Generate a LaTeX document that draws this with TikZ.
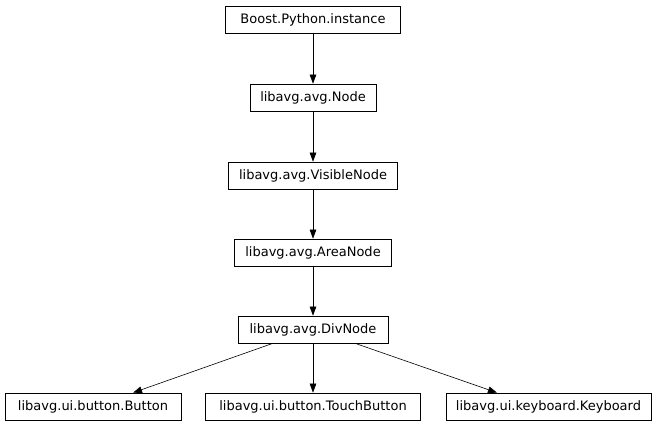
\documentclass[tikz,border=0pt]{standalone}
\usepackage{fontspec}
\setmainfont{DejaVu Sans}
\usetikzlibrary{arrows.meta}
\begin{document}
\begin{tikzpicture}[x=1pt,y=-1pt,
  box/.style={draw, line width=0.6pt, minimum height=27pt, inner sep=0pt, font=\fontsize{13}{15}\selectfont},
  edge/.style={draw, line width=0.6pt, -{Triangle[length=9pt,width=6.5pt]}}]
\useasboundingbox (0,0) rectangle (656,427);
\node[box, minimum width=175pt] (bpi) at (313,19.5) {Boost.Python.instance};
\node[box, minimum width=126pt] (node) at (313,97.5) {libavg.avg.Node};
\node[box, minimum width=169pt] (vis) at (313,175.5) {libavg.avg.VisibleNode};
\node[box, minimum width=157pt] (area) at (313,252.5) {libavg.avg.AreaNode};
\node[box, minimum width=150pt] (div) at (313,329.5) {libavg.avg.DivNode};
\node[box, minimum width=176pt] (btn) at (93,406.5) {libavg.ui.button.Button};
\node[box, minimum width=215pt] (tbtn) at (313,406.5) {libavg.ui.button.TouchButton};
\node[box, minimum width=205pt] (kbd) at (548.5,406.5) {libavg.ui.keyboard.Keyboard};
\coordinate (d1) at ([xshift=-40pt]div.south);
\coordinate (d2) at ([xshift=42pt]div.south);
\coordinate (b1) at ([xshift=40pt]btn.north);
\coordinate (k1) at ([xshift=-51.5pt]kbd.north);
\draw[edge] (bpi) -- (node);
\draw[edge] (node) -- (vis);
\draw[edge] (vis) -- (area);
\draw[edge] (area) -- (div);
\draw[edge] (d1) -- (b1);
\draw[edge] (div) -- (tbtn);
\draw[edge] (d2) -- (k1);
\end{tikzpicture}
\end{document}
